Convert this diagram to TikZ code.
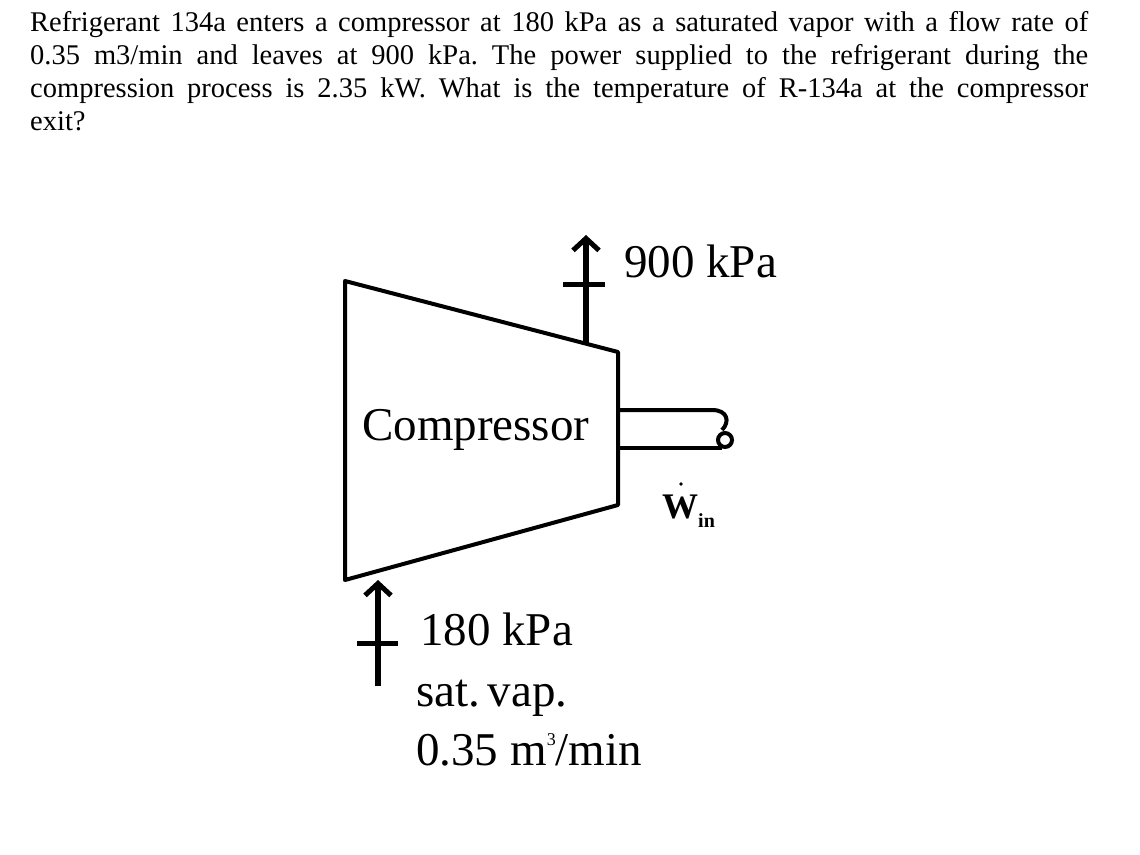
\documentclass[tikz,border=0pt]{standalone}
\usepackage{fontspec}
\setmainfont{Liberation Serif}
\usetikzlibrary{arrows.meta}
\begin{document}
\frenchspacing
\begin{tikzpicture}[x=1pt,y=-1pt,
  ln/.style={line width=4pt,line join=round},
  flow/.style={line width=6pt,-{Straight Barb[length=12pt,width=26pt,line width=5pt]}},
  lbl/.style={inner sep=0pt,anchor=base west,font=\fontsize{47}{50}\selectfont}]
\useasboundingbox (0,0) rectangle (1140,854);
\node[inner sep=0pt,anchor=north west,text width=1058pt,align=justify,font=\fontsize{28.5}{33}\selectfont] (q) at (30,11)
{Refrigerant 134a enters a compressor at 180 kPa as a saturated vapor with a flow rate of\linebreak 0.35 m3/min and leaves at 900 kPa. The power supplied to the refrigerant during the\linebreak compression process is 2.35 kW. What is the temperature of R-134a at the compressor\linebreak exit?};
\draw[ln] (345,281) -- (618,352) -- (618,505) -- (345,580) -- cycle;
\draw[ln] (620,410) -- (712,410) .. controls (728,410) and (730,422) .. (722,430);
\draw[ln] (620,448) -- (722,448);
\draw[line width=4pt] (725,440) circle (7);
\coordinate (t0) at (586,345); \coordinate (t1) at (586,235);
\draw[flow] (t0) -- (t1);
\draw[line width=5pt] (563,284) -- (605,284);
\coordinate (b0) at (378,686); \coordinate (b1) at (378,580);
\draw[flow] (b0) -- (b1);
\draw[line width=5pt] (357,643) -- (398,643);
\node[lbl] (p2) at (624,277) {900 kPa};
\node[lbl] (c) at (362,440) {Compressor};
\node[lbl] (p1) at (420,645) {180 kPa};
\node[lbl] (s) at (416,706) {sat.\,vap.};
\node[lbl] (v) at (416,765) {0.35 m\raisebox{20pt}{\fontsize{18}{18}\selectfont 3}/min};
\node[inner sep=0pt,anchor=base west,font=\fontsize{36}{38}\selectfont\bfseries] (w) at (662,518) {W\raisebox{-9pt}{\fontsize{20}{20}\selectfont in}};
\fill (681,484) circle (1.8);
\end{tikzpicture}
\end{document}
